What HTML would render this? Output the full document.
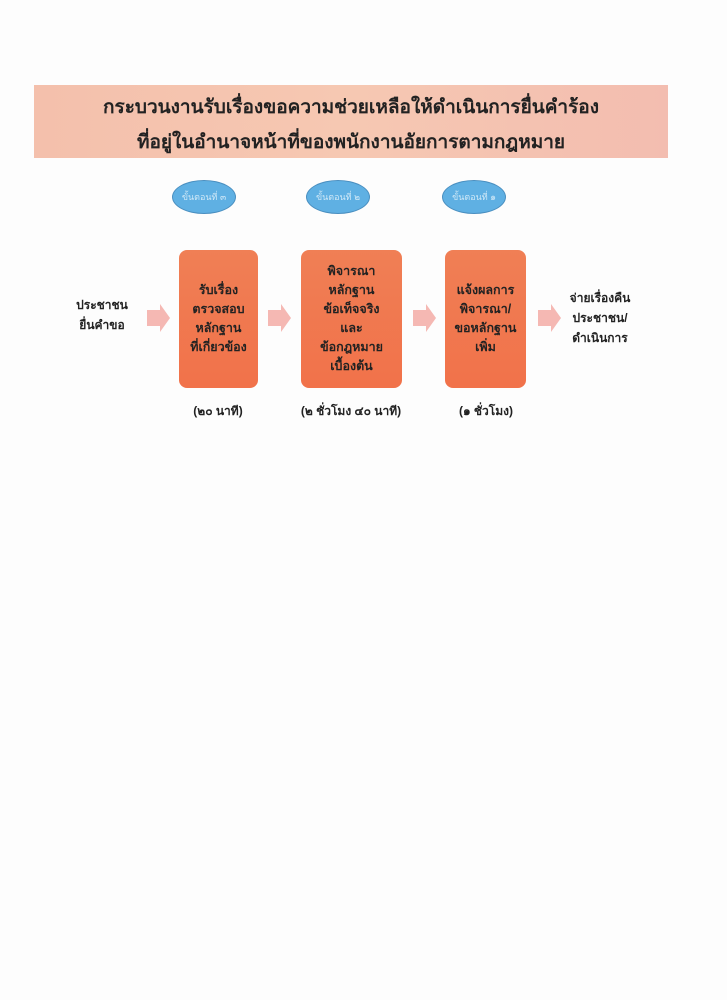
<!DOCTYPE html>
<html><head><meta charset="utf-8"><style>
body{margin:0;width:727px;height:1000px;background:#fdfdfd;position:relative;overflow:hidden;font-family:"Liberation Sans","Noto Sans CJK SC",sans-serif;}
.a{position:absolute}
.banner{left:34px;top:85px;width:634px;height:73px;background:linear-gradient(90deg,#f4c0ac,#f6c8b2 50%,#f3bdb0);}
.t{left:34px;width:634px;text-align:center;font-size:19px;font-weight:bold;color:#222;}
.ell{width:62px;height:32px;border-radius:50%;background:#5fb0e3;border:1px solid #4a8fc0;color:#cfe8f7;font-size:9px;text-align:center;line-height:32px;}
.box{top:250px;height:138px;border-radius:8px;background:linear-gradient(180deg,#f07f55,#f1724a);display:flex;align-items:center;justify-content:center;text-align:center;font-size:12.5px;font-weight:bold;color:#222;line-height:19px;}
.lbl{font-size:12px;font-weight:bold;color:#222;text-align:center;line-height:20px;}
</style></head><body>
<div class="a banner"></div>
<div class="a t" style="top:92px">กระบวนงานรับเรื่องขอความช่วยเหลือให้ดำเนินการยื่นคำร้อง</div>
<div class="a t" style="top:127px">ที่อยู่ในอำนาจหน้าที่ของพนักงานอัยการตามกฎหมาย</div>

<div class="a ell" style="left:172px;top:180px">ขั้นตอนที่ ๓</div>
<div class="a ell" style="left:306px;top:180px">ขั้นตอนที่ ๒</div>
<div class="a ell" style="left:442px;top:180px">ขั้นตอนที่ ๑</div>

<div class="a box" style="left:179px;width:79px">รับเรื่อง<br>ตรวจสอบ<br>หลักฐาน<br>ที่เกี่ยวข้อง</div>
<div class="a box" style="left:301px;width:101px">พิจารณา<br>หลักฐาน<br>ข้อเท็จจริง<br>และ<br>ข้อกฎหมาย<br>เบื้องต้น</div>
<div class="a box" style="left:445px;width:81px">แจ้งผลการ<br>พิจารณา/<br>ขอหลักฐาน<br>เพิ่ม</div>

<svg class="a" style="left:0;top:0" width="727" height="1000">
<g fill="#f5b8b3">
<polygon points="147,310 160,310 160,304 170,318 160,332 160,326 147,326"/>
<polygon points="268,310 281,310 281,304 291,318 281,332 281,326 268,326"/>
<polygon points="413,310 426,310 426,304 436,318 426,332 426,326 413,326"/>
<polygon points="538,310 551,310 551,304 561,318 551,332 551,326 538,326"/>
</g></svg>

<div class="a lbl" style="left:62px;top:295px;width:80px">ประชาชน<br>ยื่นคำขอ</div>
<div class="a lbl" style="left:560px;top:288px;width:80px">จ่ายเรื่องคืน<br>ประชาชน/<br>ดำเนินการ</div>

<div class="a lbl" style="left:168px;top:401px;width:100px">(๒๐ นาที)</div>
<div class="a lbl" style="left:291px;top:401px;width:120px">(๒ ชั่วโมง ๔๐ นาที)</div>
<div class="a lbl" style="left:436px;top:401px;width:100px">(๑ ชั่วโมง)</div>
</body></html>
